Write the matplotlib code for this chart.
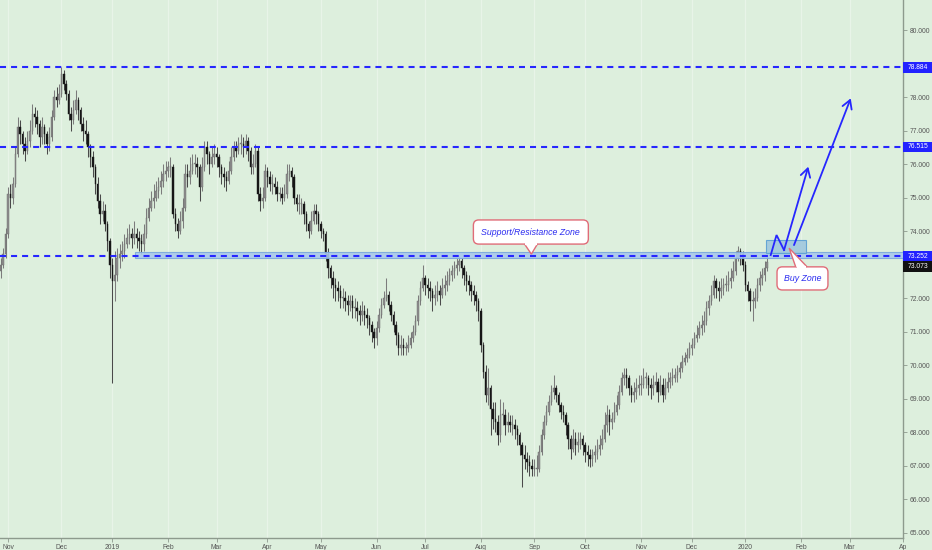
import numpy as np
import pandas as pd
import matplotlib
matplotlib.use("Agg")
import matplotlib.pyplot as plt
from matplotlib.patches import Rectangle, FancyBboxPatch, Polygon
from matplotlib.transforms import blended_transform_factory

plt.rcParams['font.family'] = ['Liberation Sans', 'DejaVu Sans']

# daily candles, starting Mon 29 Oct 2018 (business days)
start_date = "2018-10-29"
first_open = 72.8

closes = [
    73.0, 73.3, 73.9, 75.1, 75.0, 75.4, 76.3, 77.1, 76.9, 76.6,
    76.4, 76.7, 77.0, 77.5, 77.4, 77.2, 76.8, 77.1, 76.9, 76.6,
    76.8, 77.4, 78.0, 77.9, 78.1, 78.7, 78.4, 78.1, 77.5, 77.3,
    77.6, 77.9, 77.6, 77.2, 77.0, 76.9, 76.5, 76.2, 75.9, 75.4,
    74.9, 74.5, 74.6, 74.2, 73.7, 73.0, 72.5, 72.7, 73.2, 73.3,
    73.4, 73.6, 73.8, 73.9, 73.8, 73.9, 73.8, 73.7, 73.6, 73.9,
    74.4, 74.7, 74.9, 75.0, 75.2, 75.3, 75.5, 75.7, 75.8, 75.9,
    75.9, 74.5, 74.2, 74.0, 74.3, 74.7, 75.7, 75.6, 75.8, 76.0,
    76.0, 75.9, 75.3, 75.9, 76.5, 76.3, 76.0, 76.2, 76.3, 76.2,
    75.9, 75.7, 75.6, 75.5, 75.8, 76.2, 76.5, 76.4, 76.6, 76.6,
    76.5, 76.7, 76.4, 75.9, 76.0, 76.4, 75.1, 74.9, 75.0, 75.8,
    75.6, 75.4, 75.4, 75.3, 75.1, 75.1, 75.0, 75.1, 75.7, 75.8,
    75.6, 75.0, 74.8, 74.8, 74.8, 74.5, 74.2, 74.0, 74.3, 74.6,
    74.5, 74.2, 74.0, 73.9, 73.3, 72.9, 72.6, 72.4, 72.3, 72.2,
    72.0, 72.0, 71.9, 71.8, 71.9, 71.7, 71.7, 71.6, 71.5, 71.6,
    71.5, 71.4, 71.2, 71.0, 70.8, 71.1, 71.5, 71.8, 72.0, 72.1,
    71.8, 71.5, 71.2, 70.9, 70.5, 70.6, 70.5, 70.5, 70.6, 70.8,
    71.0, 71.3, 71.9, 72.3, 72.6, 72.4, 72.3, 72.2, 72.0, 72.1,
    72.2, 72.1, 72.3, 72.4, 72.5, 72.7, 72.8, 72.9, 73.0, 73.1,
    72.9, 72.7, 72.5, 72.4, 72.2, 72.1, 71.9, 71.6, 70.6, 69.8,
    69.1, 69.3, 68.7, 68.4, 68.3, 67.9, 68.5, 68.5, 68.2, 68.3,
    68.2, 68.2, 68.1, 67.9, 67.6, 67.3, 67.2, 67.1, 67.0, 66.9,
    66.9, 66.9, 67.4, 67.9, 68.3, 68.6, 68.9, 69.2, 69.3, 69.1,
    68.8, 68.6, 68.5, 68.2, 67.8, 67.5, 67.8, 67.6, 67.7, 67.8,
    67.6, 67.4, 67.3, 67.2, 67.3, 67.4, 67.5, 67.6, 67.8, 68.2,
    68.5, 68.3, 68.4, 68.6, 68.8, 69.2, 69.6, 69.7, 69.6, 69.3,
    69.1, 69.2, 69.3, 69.4, 69.4, 69.6, 69.6, 69.4, 69.3, 69.4,
    69.5, 69.2, 69.4, 69.1, 69.3, 69.5, 69.6, 69.6, 69.7, 69.8,
    69.9, 70.1, 70.2, 70.3, 70.5, 70.6, 70.8, 70.9, 71.1, 71.2,
    71.3, 71.7, 71.9, 72.1, 72.5, 72.3, 72.2, 72.3, 72.4, 72.4,
    72.5, 72.6, 72.8, 73.2, 73.4, 73.3, 73.0, 72.4, 72.2, 71.9,
    71.9, 72.0, 72.4, 72.6, 72.7, 72.9, 73.073,
]

highs = [
    73.2, 73.5, 74.1, 75.3, 75.4, 75.6, 76.5, 77.4, 77.3, 77.0,
    76.8, 77.0, 77.3, 77.8, 77.7, 77.6, 77.3, 77.4, 77.2, 77.0,
    77.1, 77.6, 78.2, 78.3, 78.4, 78.9, 78.8, 78.5, 78.2, 77.7,
    77.9, 78.2, 78.0, 77.7, 77.4, 77.3, 77.0, 76.6, 76.4, 76.0,
    75.6, 75.1, 74.9, 74.8, 74.3, 73.8, 73.2, 73.4, 73.5, 73.6,
    73.7, 73.9, 74.1, 74.2, 74.1, 74.3, 74.1, 74.0, 73.9, 74.2,
    74.7, 75.0, 75.2, 75.4, 75.5, 75.6, 75.8, 76.0, 76.1, 76.1,
    76.2, 76.0, 74.7, 74.4, 74.6, 75.0, 76.0, 76.0, 76.2, 76.3,
    76.3, 76.2, 76.0, 76.2, 76.7, 76.7, 76.4, 76.5, 76.6, 76.5,
    76.3, 76.0, 75.9, 75.8, 76.1, 76.5, 76.7, 76.7, 76.8, 76.9,
    76.8, 76.9, 76.8, 76.5, 76.3, 76.6, 76.5, 75.3, 75.3, 76.0,
    75.9, 75.8, 75.7, 75.6, 75.5, 75.3, 75.3, 75.4, 76.0, 76.0,
    75.9, 75.7, 75.1, 75.1, 75.0, 74.9, 74.6, 74.3, 74.6, 74.8,
    74.8, 74.6, 74.3, 74.1, 74.0, 73.5, 73.0, 72.8, 72.6, 72.5,
    72.4, 72.3, 72.2, 72.1, 72.1, 72.1, 72.0, 71.9, 71.8, 71.9,
    71.8, 71.7, 71.5, 71.3, 71.1, 71.3, 71.7, 72.0, 72.2, 72.6,
    72.2, 71.9, 71.6, 71.3, 71.0, 70.9, 70.8, 70.7, 70.9, 71.0,
    71.2, 71.5, 72.1, 72.5, 73.0, 72.7, 72.6, 72.5, 72.3, 72.4,
    72.5, 72.4, 72.6, 72.7, 72.8, 72.9, 73.0, 73.1, 73.2, 73.25,
    73.2, 73.0, 72.8, 72.7, 72.5, 72.4, 72.2, 72.0, 71.7, 70.7,
    70.0, 69.9, 69.4, 68.9, 68.9, 68.5, 69.0, 68.9, 68.7, 68.6,
    68.5, 68.5, 68.4, 68.2, 68.0, 67.7, 67.6, 67.4, 67.3, 67.2,
    67.2, 67.3, 67.6, 68.1, 68.5, 68.8, 69.1, 69.4, 69.7, 69.4,
    69.2, 68.9, 68.8, 68.6, 68.3, 67.9, 68.1, 68.0, 68.0, 68.0,
    67.9, 67.7, 67.6, 67.5, 67.5, 67.6, 67.8, 67.9, 68.1, 68.6,
    68.8, 68.7, 68.6, 68.9, 69.1, 69.4, 69.8, 69.9, 69.9, 69.7,
    69.4, 69.5, 69.6, 69.7, 69.7, 69.9, 69.8, 69.7, 69.6, 69.7,
    69.8, 69.6, 69.7, 69.6, 69.6, 69.8, 69.8, 69.9, 69.9, 70.0,
    70.1, 70.3, 70.4, 70.5, 70.7, 70.8, 71.0, 71.2, 71.3, 71.5,
    71.6, 71.9, 72.1, 72.4, 72.7, 72.6, 72.5, 72.6, 72.6, 72.7,
    72.8, 72.9, 73.1, 73.4, 73.55, 73.5, 73.4, 73.1, 72.5, 72.3,
    72.2, 72.3, 72.6, 72.8, 72.9, 73.1, 73.3,
]

lows = [
    72.6, 72.9, 73.2, 73.8, 74.7, 74.8, 75.3, 76.2, 76.6, 76.3,
    76.1, 76.3, 76.5, 76.9, 77.1, 76.9, 76.5, 76.6, 76.6, 76.3,
    76.4, 76.7, 77.3, 77.7, 77.8, 78.0, 78.2, 77.9, 77.3, 77.0,
    77.2, 77.5, 77.3, 77.0, 76.7, 76.6, 76.2, 75.9, 75.6, 75.1,
    74.7, 74.2, 74.3, 74.0, 73.4, 72.6, 69.45, 71.9, 72.5, 72.9,
    73.1, 73.2, 73.5, 73.6, 73.5, 73.6, 73.5, 73.4, 73.3, 73.4,
    73.8, 74.3, 74.6, 74.7, 74.9, 75.0, 75.1, 75.3, 75.5, 75.6,
    75.6, 74.4, 74.0, 73.8, 73.9, 74.1, 74.6, 75.3, 75.4, 75.7,
    75.7, 75.6, 74.9, 75.2, 75.8, 76.0, 75.7, 75.9, 76.0, 75.9,
    75.6, 75.4, 75.3, 75.2, 75.4, 75.7, 76.1, 76.2, 76.3, 76.3,
    76.2, 76.3, 76.1, 75.7, 75.7, 75.9, 74.9, 74.6, 74.7, 74.9,
    75.3, 75.2, 75.1, 75.1, 74.9, 74.9, 74.8, 74.9, 75.0, 75.5,
    75.3, 74.8, 74.6, 74.5, 74.5, 74.2, 74.0, 73.8, 73.9, 74.2,
    74.2, 74.0, 73.8, 73.7, 73.1, 72.6, 72.3, 72.0, 71.9, 71.9,
    71.7, 71.7, 71.6, 71.5, 71.6, 71.4, 71.4, 71.3, 71.2, 71.3,
    71.2, 71.1, 70.9, 70.7, 70.5, 70.6, 71.0, 71.4, 71.7, 71.9,
    71.6, 71.3, 71.0, 70.6, 70.3, 70.3, 70.3, 70.3, 70.4, 70.5,
    70.7, 70.9, 71.2, 71.8, 72.2, 72.1, 72.0, 71.9, 71.6, 71.8,
    71.9, 71.8, 72.0, 72.1, 72.2, 72.4, 72.5, 72.6, 72.7, 72.8,
    72.6, 72.4, 72.2, 72.1, 71.9, 71.8, 71.6, 71.3, 70.4, 69.6,
    68.9, 68.8, 67.9, 68.1, 68.0, 67.6, 67.7, 68.2, 67.9, 68.0,
    68.0, 67.9, 67.8, 67.6, 67.3, 66.35, 66.9, 66.8, 66.7, 66.7,
    66.7, 66.7, 66.8, 67.3, 67.8, 68.2, 68.5, 68.8, 69.0, 68.9,
    68.6, 68.4, 68.3, 67.9, 67.5, 67.2, 67.4, 67.3, 67.4, 67.5,
    67.3, 67.1, 67.0, 66.95, 67.0, 67.1, 67.2, 67.3, 67.5, 67.7,
    68.0, 67.9, 68.1, 68.3, 68.5, 68.7, 69.1, 69.4, 69.3, 69.1,
    68.9, 68.9, 69.0, 69.1, 69.1, 69.3, 69.3, 69.1, 69.0, 69.1,
    69.2, 68.9, 69.1, 68.9, 69.0, 69.2, 69.3, 69.4, 69.5, 69.5,
    69.6, 69.8, 70.0, 70.1, 70.2, 70.3, 70.5, 70.7, 70.8, 70.9,
    71.0, 71.2, 71.5, 71.8, 72.0, 72.0, 71.9, 72.0, 72.1, 72.2,
    72.2, 72.3, 72.5, 72.7, 73.1, 73.0, 72.8, 72.2, 71.9, 71.6,
    71.3, 71.7, 71.9, 72.2, 72.4, 72.5, 72.8,
]

levels = [78.884, 76.515, 73.252]
level_labels = ["78.884", "76.515", "73.252"]
last_price = 73.073
price_ticks = [65, 66, 67, 68, 69, 70, 71, 72, 74, 75, 76, 77, 78, 80]

# zones / drawings (bar index, price)
sr_zone = (55.3, 73.20, 73.36)            # start index, low, high
buy_zone = (315.6, 332.1, 73.33, 73.73)   # x0, x1, low, high
path1 = [(317.5, 73.28), (319.9, 73.88), (323.0, 73.43), (333.0, 75.92)]
path2 = [(327.1, 73.58), (350.5, 77.96)]

bg = '#ddefdd'
blue = '#2626ff'
red_edge = '#e06c78'
txt_blue = '#2b2bf0'

opens = [first_open] + closes[:-1]
o = np.array(opens)
c = np.array(closes)
h = np.array(highs)
l = np.array(lows)
x = np.arange(len(c))

# calendar for the x axis, extended into the future
days = pd.bdate_range(start_date, "2020-04-30")
months = pd.Series(np.arange(len(days)), index=days).groupby([days.year, days.month]).first()
tick_pos, tick_lab = [], []
for (yr, mo), pos in months.items():
    if (yr, mo) == (2018, 10):
        continue
    tick_pos.append(pos)
    lab = str(yr) if mo == 1 else pd.Timestamp(yr, mo, 1).strftime('%b')
    tick_lab.append(lab)
tick_lab[-1] = 'Ap'

fig = plt.figure(figsize=(9.32, 5.5), dpi=100, facecolor=bg)
ax = fig.add_axes([0, 12 / 550, 903 / 932, 538 / 550])
ax.set_facecolor(bg)
ax.set_xlim(-0.3, 372.05)
ax.set_ylim(64.836, 80.896)

# candles
up = c >= o
ax.vlines(x, l, h, colors=np.where(up, '#7c7c7c', '#4a4a4a'), linewidth=0.75, zorder=2)
body_lo = np.minimum(o, c)
body_h = np.maximum(np.abs(c - o), 0.03)
ax.bar(x, body_h, bottom=body_lo, width=0.6,
       color=np.where(up, '#8e8e8e', '#161616'),
       edgecolor=np.where(up, '#6a6a6a', '#161616'), linewidth=0.3, zorder=3)

# support/resistance band
ax.add_patch(Rectangle((sr_zone[0], sr_zone[1]), 400, sr_zone[2] - sr_zone[1],
                       facecolor='#a9c9ec', edgecolor='#7aa7dc', linewidth=0.8,
                       alpha=0.9, zorder=4))

# horizontal levels
for lv in levels:
    ax.axhline(lv, color=blue, linewidth=1.5, linestyle=(0, (2.9, 2.4)), zorder=5)

# buy zone box
bx0, bx1, by0, by1 = buy_zone
ax.add_patch(Rectangle((bx0, by0), bx1 - bx0, by1 - by0, facecolor='#9fc8de',
                       edgecolor='#5a9fd4', linewidth=0.8, alpha=0.9, zorder=4))

# projected paths
px, py = zip(*path1)
ax.plot(px[:-1], py[:-1], color=blue, linewidth=1.3, zorder=6, solid_joinstyle='miter')
for pts in (path1, path2):
    ax.annotate('', xy=pts[-1], xytext=pts[-2],
                arrowprops=dict(arrowstyle='->,head_length=0.6,head_width=0.35',
                                color=blue, lw=1.3, shrinkA=0, shrinkB=0), zorder=6)

aspect = (538 / (80.896 - 64.836)) / (903 / 372.35)
aspect = 1 / aspect


def callout(x0, x1, y0, y1, base, tip, text, top_side):
    box = FancyBboxPatch((x0, y0), x1 - x0, y1 - y0,
                         boxstyle='round,pad=0,rounding_size=2.2',
                         mutation_aspect=aspect, facecolor='white',
                         edgecolor=red_edge, linewidth=1.0, zorder=7)
    ax.add_patch(box)
    ye = y1 if top_side else y0
    tri = Polygon([(base[0], ye), tip, (base[1], ye)], closed=False,
                  facecolor='white', edgecolor=red_edge, linewidth=1.0, zorder=8)
    ax.add_patch(tri)
    ax.plot([base[0] + 0.35, base[1] - 0.35], [ye, ye], color='white',
            linewidth=1.6, zorder=9, solid_capstyle='butt')
    ax.text((x0 + x1) / 2, (y0 + y1) / 2, text, ha='center', va='center',
            fontsize=6.3, style='italic', color=txt_blue, zorder=10)


callout(194.9, 242.3, 73.61, 74.33, (216.0, 221.3), (218.8, 73.31),
        'Support/Resistance Zone', False)
callout(320.1, 341.1, 72.24, 72.93, (327.8, 332.5), (325.1, 73.49),
        'Buy Zone', True)

# axes styling
for side in ('left', 'top'):
    ax.spines[side].set_visible(False)
for side in ('right', 'bottom'):
    ax.spines[side].set_color('#8d9a8d')
    ax.spines[side].set_linewidth(1.0)

ax.yaxis.tick_right()
ax.set_yticks(price_ticks)
ax.set_yticklabels([f'{t:.3f}' for t in price_ticks])
ax.tick_params(axis='y', length=3, width=0.6, color='#8d9a8d', pad=2,
               labelsize=4.9, labelcolor='#555555')
ax.set_xticks(tick_pos)
ax.set_xticklabels(tick_lab)
ax.tick_params(axis='x', length=3, width=0.6, color='#8d9a8d', pad=1.5,
               labelsize=4.9, labelcolor='#555555')
ax.grid(axis='x', color='#e8f4e8', linewidth=0.9, zorder=0)
ax.set_axisbelow(True)

# price labels on the scale
tr = blended_transform_factory(ax.transAxes, ax.transData)
box_w = 29 / 903
box_h = 10.5 / (538 / (80.896 - 64.836))
label_rows = list(zip(levels, level_labels, ['#2222ff'] * 3, levels))
label_rows.append((last_price, f'{last_price:.3f}', '#111111', last_price - 0.13))
for lv, lab, col, ypos in label_rows:
    ax.add_patch(Rectangle((1.0, ypos - box_h / 2), box_w, box_h, transform=tr,
                           facecolor=col, edgecolor='none', clip_on=False, zorder=10))
    ax.text(1.0 + box_w / 2, ypos, lab, transform=tr, ha='center', va='center',
            fontsize=4.9, color='white', zorder=11, clip_on=False)

fig.savefig('out.png', dpi=100, facecolor=bg)
